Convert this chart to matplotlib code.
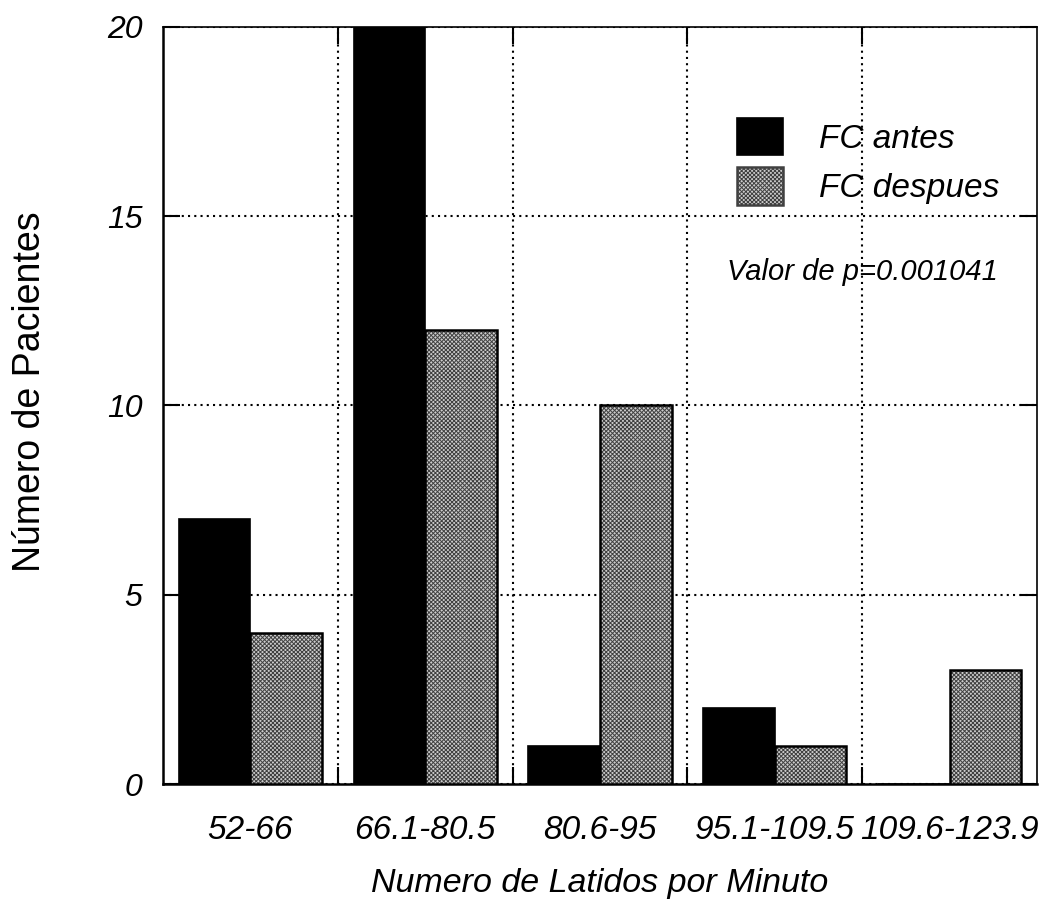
import matplotlib.pyplot as plt
import numpy as np

# Data
rangos = ['52-66', '66.1-80.5', '80.6-95', '95.1-109.5', '109.6-123.9']
fc_antes = [7, 20, 1, 2, 0]
fc_despues = [4, 12, 10, 1, 3]
p_texto = 'Valor de p=0.001041'

plt.rcParams['font.family'] = ['Liberation Sans', 'DejaVu Sans']
plt.rcParams['hatch.linewidth'] = 0.7

fig = plt.figure(figsize=(10.6, 9.11), dpi=100)
ax = fig.add_axes([0.1538, 0.1394, 0.9783 - 0.1538, 0.9704 - 0.1394])

x = np.arange(len(rangos))
w = 0.41
hatch_fc = '#cccccc'
hatch_ec = '#404040'
ax.bar(x - w / 2, fc_antes, w, color='black', edgecolor='black', linewidth=1.2,
       label='FC antes', zorder=3)
# hatched fill (gray crosshatch) then a black outline on top
ax.bar(x + w / 2, fc_despues, w, color=hatch_fc, edgecolor=hatch_ec, linewidth=0,
       hatch='xxxxxxxx', zorder=3)
ax.bar(x + w / 2, fc_despues, w, fill=False, edgecolor='black', linewidth=1.8, zorder=4)

ax.set_xlim(-0.5, len(rangos) - 0.5)
ax.set_ylim(0, 20)
ax.set_yticks([0, 5, 10, 15, 20])
ax.set_xticks(x)
ax.set_xticklabels(rangos)
ax.set_xticks(x[:-1] + 0.5, minor=True)

dots = (0, (1, 2))
ax.grid(axis='y', which='major', color='black', linestyle=dots, linewidth=1.5, zorder=1)
ax.grid(axis='x', which='minor', color='black', linestyle=dots, linewidth=1.5, zorder=1)

ax.tick_params(axis='y', which='major', direction='in', length=12, width=1.5,
               left=True, right=True, pad=15, labelsize=23)
ax.tick_params(axis='x', which='major', length=0, pad=22, labelsize=24)
ax.tick_params(axis='x', which='minor', direction='in', length=12, width=1.5,
               top=True, bottom=True)
for lab in ax.get_xticklabels() + ax.get_yticklabels():
    lab.set_fontstyle('italic')

for s in ax.spines.values():
    s.set_linewidth(1.2)
ax.spines['left'].set_linewidth(1.8)
ax.spines['bottom'].set_linewidth(1.8)

ax.set_ylabel('Número de Pacientes', fontsize=27)
ax.yaxis.set_label_coords(-0.132, 0.518)
ax.set_xlabel('Numero de Latidos por Minuto', fontsize=24.5, fontstyle='italic', labelpad=16)

# legend handles built from proxy bars
h1 = plt.Rectangle((0, 0), 1, 1, facecolor='black', edgecolor='black', linewidth=1.2)
h2 = plt.Rectangle((0, 0), 1, 1, facecolor=hatch_fc, edgecolor=hatch_ec,
                   hatch='xxxxxxxx', linewidth=1.8)
ax.legend([h1, h2], ['FC antes', 'FC despues'], loc='upper left',
          bbox_to_anchor=(0.657, 0.880), frameon=False, borderpad=0, borderaxespad=0,
          prop={'size': 24, 'style': 'italic'}, handlelength=1.36,
          handleheight=1.36, handletextpad=1.1, labelspacing=0.36)

ax.text(0.955, 0.676, p_texto, transform=ax.transAxes, ha='right', va='center',
        fontsize=21, fontstyle='italic')

fig.savefig('out.png', dpi=100)
